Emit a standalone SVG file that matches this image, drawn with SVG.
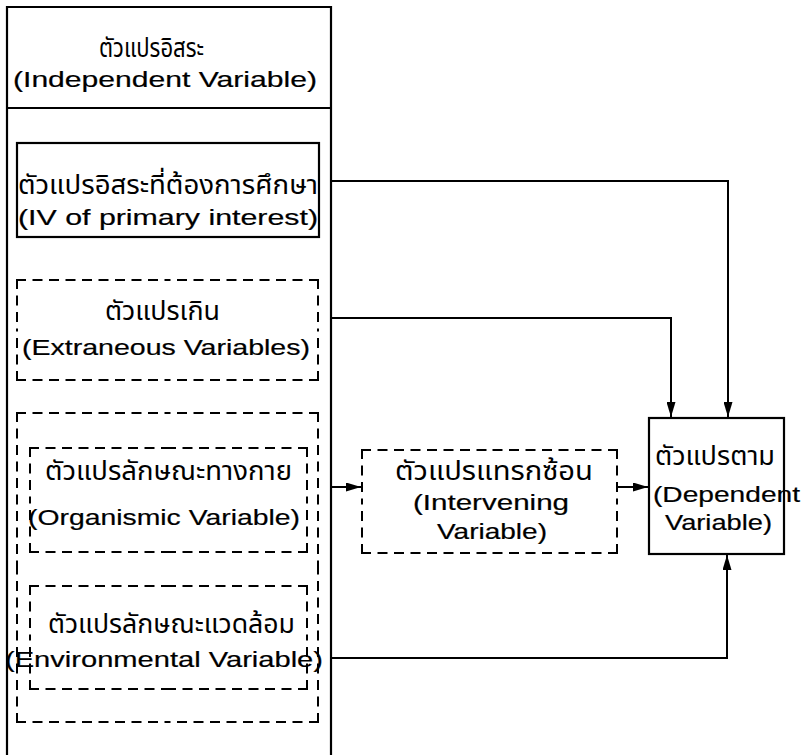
<svg xmlns="http://www.w3.org/2000/svg" width="805" height="755" viewBox="0 0 805 755">
<style>
.solid{fill:none;stroke:#000;stroke-width:2.2}
.dash{fill:none;stroke:#000;stroke-width:2;stroke-dasharray:8 8.5;stroke-linecap:square}
.conn{fill:none;stroke:#000;stroke-width:2}
.en{font-family:"Liberation Sans",Arial,sans-serif;font-size:22px;fill:#000;stroke:#000;stroke-width:0.2}
.th{font-family:"Noto Sans Thai","Liberation Sans","Noto Sans",sans-serif;font-size:26px;fill:#000}
</style>
<defs>
<marker id="arr" markerUnits="userSpaceOnUse" markerWidth="15" markerHeight="9" refX="15" refY="4.5" orient="auto">
<path d="M0,0 L15,4.5 L0,9 z" fill="#000"/>
</marker>
</defs>
<rect width="805" height="755" fill="#fff"/>
<g id="independent">
<path class="solid" d="M7,756 V7 H331 V756 M7,108 H331"/>
<text class="th" x="99" y="57" textLength="105" lengthAdjust="spacingAndGlyphs">ตัวแปรอิสระ</text>
<text class="en" x="13" y="87" textLength="304" lengthAdjust="spacingAndGlyphs">(Independent Variable)</text>
</g>
<g id="primary">
<rect class="solid" x="17" y="143" width="302" height="94"/>
<text class="th" x="18" y="194" textLength="300" lengthAdjust="spacingAndGlyphs">ตัวแปรอิสระที่ต้องการศึกษา</text>
<text class="en" x="18" y="225" textLength="300" lengthAdjust="spacingAndGlyphs">(IV of primary interest)</text>
</g>
<g id="extraneous">
<path class="dash" d="M17,280 H167.5 M318,280 H167.5 M318,280 V330 M318,380 V330 M318,380 H167.5 M17,380 H167.5 M17,380 V330 M17,280 V330"/>
<text class="th" x="105" y="320" textLength="115" lengthAdjust="spacingAndGlyphs">ตัวแปรเกิน</text>
<text class="en" x="22" y="355" textLength="288" lengthAdjust="spacingAndGlyphs">(Extraneous Variables)</text>
</g>
<g id="group">
<path class="dash" d="M17,413 H167.5 M318,413 H167.5 M318,413 V567.5 M318,722 V567.5 M318,722 H167.5 M17,722 H167.5 M17,722 V567.5 M17,413 V567.5"/>
</g>
<g id="organismic">
<path class="dash" d="M30,448 H168.5 M307,448 H168.5 M307,448 V500 M307,552 V500 M307,552 H168.5 M30,552 H168.5 M30,552 V500 M30,448 V500"/>
<text class="th" x="45" y="480" textLength="247" lengthAdjust="spacingAndGlyphs">ตัวแปรลักษณะทางกาย</text>
<text class="en" x="28" y="525" textLength="272" lengthAdjust="spacingAndGlyphs">(Organismic Variable)</text>
</g>
<g id="environmental">
<path class="dash" d="M30,586 H168.5 M307,586 H168.5 M307,586 V637.5 M307,689 V637.5 M307,689 H168.5 M30,689 H168.5 M30,689 V637.5 M30,586 V637.5"/>
<text class="th" x="48" y="633" textLength="247" lengthAdjust="spacingAndGlyphs">ตัวแปรลักษณะแวดล้อม</text>
<text class="en" x="5" y="667" textLength="318" lengthAdjust="spacingAndGlyphs">(Environmental Variable)</text>
</g>
<g id="intervening">
<path class="dash" d="M362,450 H489.5 M617,450 H489.5 M617,450 V501.5 M617,553 V501.5 M617,553 H489.5 M362,553 H489.5 M362,553 V501.5 M362,450 V501.5"/>
<text class="th" x="395" y="480" textLength="198" lengthAdjust="spacingAndGlyphs">ตัวแปรแทรกซ้อน</text>
<text class="en" x="413" y="510" textLength="156" lengthAdjust="spacingAndGlyphs">(Intervening</text>
<text class="en" x="437" y="539" textLength="110" lengthAdjust="spacingAndGlyphs">Variable)</text>
</g>
<g id="dependent">
<rect class="solid" x="649" y="418" width="135" height="136"/>
<text class="th" x="655" y="465" textLength="120" lengthAdjust="spacingAndGlyphs">ตัวแปรตาม</text>
<text class="en" x="653" y="502" textLength="147" lengthAdjust="spacingAndGlyphs">(Dependent</text>
<text class="en" x="665" y="530" textLength="107" lengthAdjust="spacingAndGlyphs">Variable)</text>
</g>
<g id="connectors">
<path class="conn" d="M331,181 H728 V417" marker-end="url(#arr)"/>
<path class="conn" d="M331,318 H671 V417" marker-end="url(#arr)"/>
<path class="conn" d="M331,487 H361" marker-end="url(#arr)"/>
<path class="conn" d="M617,487 H648" marker-end="url(#arr)"/>
<path class="conn" d="M331,658 H727 V555" marker-end="url(#arr)"/>
</g>
</svg>
